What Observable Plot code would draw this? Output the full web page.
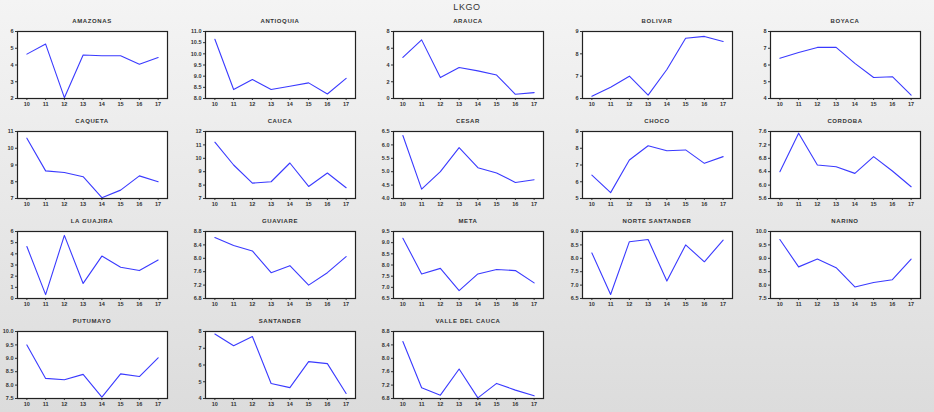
<!DOCTYPE html>
<html><head><meta charset="utf-8">
<script src="https://cdn.jsdelivr.net/npm/d3@7"></script>
<script src="https://cdn.jsdelivr.net/npm/@observablehq/plot@0.6"></script>
<style>
body{margin:0;width:934px;height:412px;overflow:hidden;background:linear-gradient(#f4f4f4,#dcdcdc);font-family:"Liberation Sans",Arial,sans-serif;}
#wrap{position:relative;width:934px;height:412px;}
.t{position:absolute;font-size:6px;font-weight:bold;letter-spacing:0.6px;color:#333;text-align:center;width:150px;}
.p{position:absolute;}
</style></head><body><div id="wrap"></div>
<script>
const years = [10,11,12,13,14,15,16,17];
const names = ["AMAZONAS","ANTIOQUIA","ARAUCA","BOLIVAR","BOYACA","CAQUETA","CAUCA","CESAR","CHOCO","CORDOBA","LA GUAJIRA","GUAVIARE","META","NORTE SANTANDER","NARINO","PUTUMAYO","SANTANDER","VALLE DEL CAUCA"];
const values = [
 [4.65,5.25,2.05,4.6,4.55,4.55,4.05,4.45],
 [10.65,8.4,8.85,8.4,8.55,8.7,8.2,8.9],
 [4.9,7.0,2.5,3.7,3.3,2.8,0.5,0.7],
 [6.1,6.5,7.0,6.15,7.3,8.7,8.78,8.55],
 [6.4,6.75,7.05,7.05,6.1,5.25,5.3,4.2],
 [10.6,8.65,8.55,8.3,7.05,7.5,8.35,8.0],
 [11.2,9.5,8.15,8.25,9.65,7.9,8.9,7.8],
 [6.35,4.35,5.0,5.9,5.15,4.95,4.6,4.7],
 [6.4,5.35,7.3,8.15,7.85,7.9,7.1,7.5],
 [6.4,7.55,6.6,6.55,6.35,6.85,6.42,5.95],
 [4.65,0.35,5.65,1.35,3.8,2.8,2.5,3.45],
 [8.62,8.38,8.22,7.57,7.78,7.2,7.57,8.05],
 [9.2,7.6,7.85,6.85,7.6,7.8,7.75,7.2],
 [8.2,6.65,8.62,8.7,7.15,8.5,7.87,8.68],
 [9.7,8.68,8.97,8.65,7.93,8.1,8.2,8.97],
 [9.5,8.25,8.2,8.4,7.55,8.42,8.32,9.02],
 [7.85,7.15,7.7,4.9,4.65,6.2,6.08,4.3],
 [8.5,7.12,6.9,7.68,6.82,7.25,7.05,6.88]
];
const yAxes = [[2,6,1],[8,11,0.5],[0,8,2],[6,9,1],[4,8,1],[7,11,1],[7,12,1],[4,6.5,0.5],[5,9,1],[5.6,7.6,0.4],[0,6,1],[6.8,8.8,0.4],[6.5,9.5,0.5],[6.5,9,0.5],[7.5,10,0.5],[7.5,10,0.5],[4,8,1],[6.8,8.8,0.4]];
const colX=[17,205,393,582,770], rowY=[31,131,231,331];
const W=150,H=67, mL=24,mR=4,mT=3,mB=11;
const wrap=document.getElementById("wrap");
const ttl=document.createElement("div");ttl.className="t";ttl.style.cssText="left:392px;top:2px;font-size:9px;font-weight:normal;";ttl.textContent="LKGO";wrap.appendChild(ttl);
names.forEach((n,i)=>{
  const c=i%5,r=Math.floor(i/5);
  const [lo,hi,st]=yAxes[i];
  const ticks=d3.range(lo,hi+st/2,st).map(v=>+v.toFixed(2));
  const data=years.map((y,j)=>({y,v:values[i][j]}));
  const dec = st<1 ? 1 : 0;
  const svg=Plot.plot({
    width:W+mL+mR,height:H+mT+mB,marginLeft:mL,marginRight:mR,marginTop:mT,marginBottom:mB,
    style:{background:"transparent",fontSize:"5.5px",fontWeight:"bold",fontFamily:"Liberation Sans, Arial",color:"#333"},
    x:{domain:[9.5,17.5],ticks:years,tickFormat:d=>d,tickSize:2,tickPadding:2,label:null},
    y:{domain:[lo,hi],ticks,tickFormat:d=>d.toFixed(dec),tickSize:2,tickPadding:2,label:null},
    marks:[
      Plot.rect([0],{x1:9.5,x2:17.5,y1:lo,y2:hi,fill:"white"}),
      Plot.line(data,{x:"y",y:"v",stroke:"#3a3aff",strokeWidth:1.1}),
      Plot.frame({stroke:"#222",strokeWidth:1.2})
    ]
  });
  svg.classList.add("p");
  svg.style.left=(colX[c]-mL)+"px"; svg.style.top=(rowY[r]-mT)+"px";
  wrap.appendChild(svg);
  const t=document.createElement("div");t.className="t";
  t.style.left=colX[c]+"px";t.style.top=(rowY[r]-13)+"px";t.textContent=n;wrap.appendChild(t);
});
</script></body></html>
